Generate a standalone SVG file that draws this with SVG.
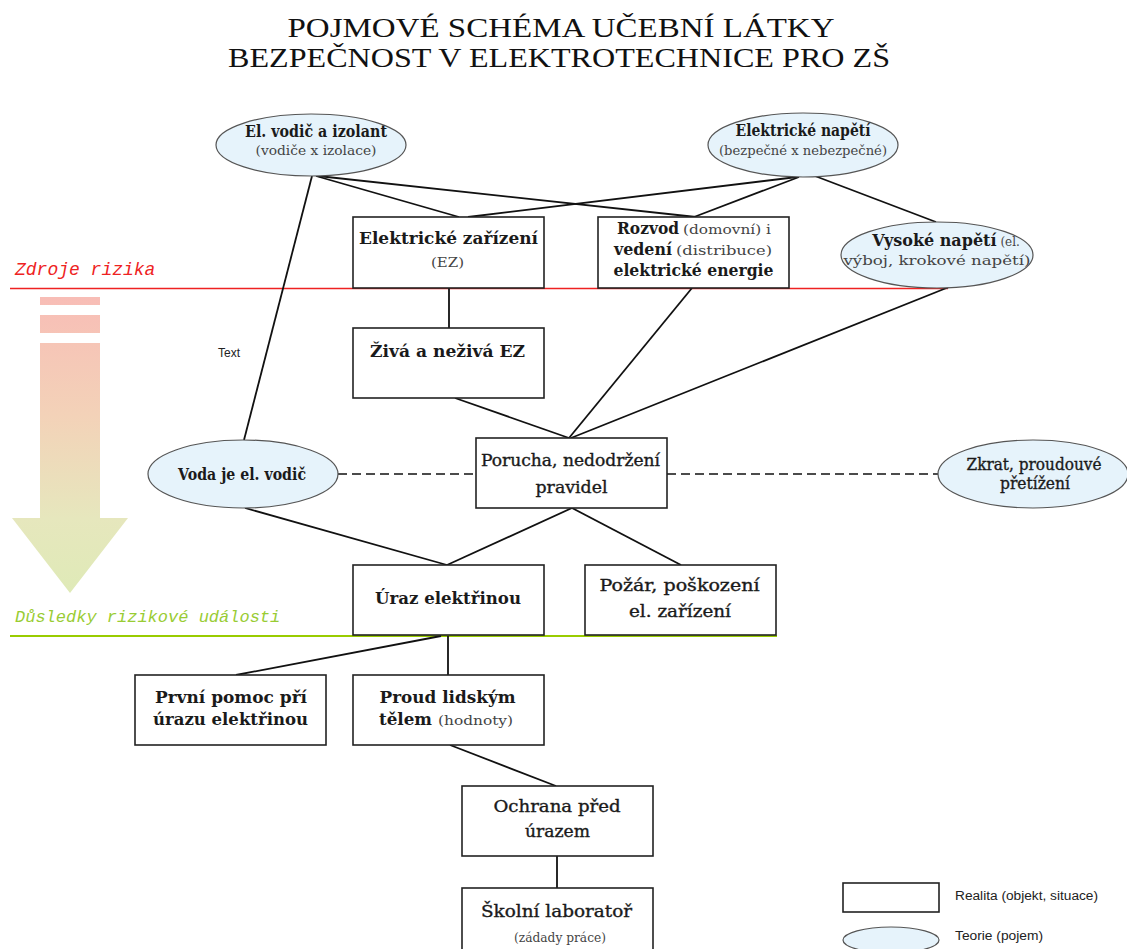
<svg xmlns="http://www.w3.org/2000/svg" width="1127" height="949" viewBox="0 0 1127 949">
<defs>
<linearGradient id="arrowGrad" gradientUnits="userSpaceOnUse" x1="0" y1="297" x2="0" y2="593">
<stop offset="0" stop-color="#f8bdb6"/>
<stop offset="0.4" stop-color="#f3d2b8"/>
<stop offset="0.75" stop-color="#e6e7bd"/>
<stop offset="1" stop-color="#dfeab7"/>
</linearGradient>
</defs>
<style>
.title{font-family:"Liberation Serif","Times New Roman",serif;font-size:27px;fill:#111}
.box{fill:#fff;stroke:#222;stroke-width:1.6}
.ell{fill:#e6f3fb;stroke:#555;stroke-width:1.2}
.b{font-family:"DejaVu Serif",serif;font-weight:bold;font-size:16px;fill:#1a1a1a}
.r{font-family:"DejaVu Serif",serif;font-size:16px;fill:#1a1a1a;stroke:#1a1a1a;stroke-width:0.35}
.s{font-family:"DejaVu Serif",serif;font-size:12px;fill:#444;font-weight:normal;stroke:none}
.t{text-anchor:middle}
.conn line{stroke:#111;stroke-width:1.8}
.conn .dash{stroke-dasharray:9,5;stroke-width:1.5}
.leg{font-family:"Liberation Sans",Arial,sans-serif;font-size:12px;fill:#222}
.zone{font-family:"Liberation Mono","Courier New",monospace;font-style:italic}
</style>

<g id="title">
<text class="title t" x="561" y="37" textLength="547" lengthAdjust="spacingAndGlyphs">POJMOVÉ SCHÉMA UČEBNÍ LÁTKY</text>
<text class="title t" x="559" y="67" textLength="662" lengthAdjust="spacingAndGlyphs">BEZPEČNOST V ELEKTROTECHNICE PRO ZŠ</text>
</g>

<g id="risk-arrow">
<rect x="40" y="297" width="60" height="8" fill="url(#arrowGrad)"/>
<rect x="40" y="315" width="60" height="18" fill="url(#arrowGrad)"/>
<polygon points="40,343 100,343 100,518 128,518 70,593 12,518 40,518" fill="url(#arrowGrad)"/>
</g>

<g id="zone-lines">
<line x1="10" y1="288.5" x2="948" y2="288.5" stroke="#ee2222" stroke-width="1.5"/>
<text class="zone" x="15" y="275" font-size="18" fill="#ee2222">Zdroje rizika</text>
<line x1="10" y1="636" x2="777" y2="636" stroke="#99cc00" stroke-width="2"/>
<text class="zone" x="15" y="622" font-size="17" fill="#99cc33">Důsledky rizikové události</text>
</g>

<g id="connectors" class="conn">
<line x1="312" y1="176" x2="244" y2="440"/>
<line x1="316" y1="176" x2="459" y2="217"/>
<line x1="318" y1="176" x2="696" y2="217"/>
<line x1="797" y1="177" x2="468" y2="217"/>
<line x1="799" y1="177" x2="694" y2="217"/>
<line x1="815" y1="176" x2="936" y2="222"/>
<line x1="449" y1="288" x2="449" y2="328"/>
<line x1="455" y1="398" x2="569" y2="438"/>
<line x1="692" y1="288" x2="569" y2="438"/>
<line x1="949" y1="287" x2="571" y2="438"/>
<line class="dash" x1="338" y1="474" x2="476" y2="474"/>
<line class="dash" x1="667" y1="474" x2="938" y2="474"/>
<line x1="245" y1="508" x2="447" y2="565"/>
<line x1="572" y1="508" x2="447" y2="565"/>
<line x1="572" y1="508" x2="681" y2="565"/>
<line x1="441" y1="636" x2="236" y2="675"/>
<line x1="448" y1="636" x2="448" y2="675"/>
<line x1="450" y1="745" x2="556" y2="786"/>
<line x1="557" y1="856" x2="557" y2="888"/>
<text class="leg" x="218" y="357">Text</text>
</g>

<g id="n-vodic-izolant">
<ellipse class="ell" cx="311" cy="145" rx="95" ry="31"/>
<text class="b t" x="316" y="137" font-size="15" textLength="142" lengthAdjust="spacingAndGlyphs">El. vodič a izolant</text>
<text class="s t" x="316" y="155" font-size="13" textLength="121" lengthAdjust="spacingAndGlyphs">(vodiče x izolace)</text>
</g>

<g id="n-napeti">
<ellipse class="ell" cx="803" cy="145" rx="95" ry="32"/>
<text class="b t" x="803" y="136" font-size="14" textLength="135" lengthAdjust="spacingAndGlyphs">Elektrické napětí</text>
<text class="s t" x="803" y="155" font-size="11" textLength="168" lengthAdjust="spacingAndGlyphs">(bezpečné x nebezpečné)</text>
</g>

<g id="n-vysoke">
<ellipse class="ell" cx="937" cy="255" rx="96" ry="33"/>
<text class="t" x="946" y="246"><tspan class="b" font-size="14">Vysoké napětí</tspan><tspan class="s" font-size="12"> (el.</tspan></text>
<text class="s t" x="937" y="265" font-size="13" textLength="187" lengthAdjust="spacingAndGlyphs">výboj, krokové napětí)</text>
</g>

<g id="n-ez">
<rect class="box" x="353" y="217" width="191" height="71"/>
<text class="b t" x="448.5" y="244" textLength="179" lengthAdjust="spacingAndGlyphs">Elektrické zařízení</text>
<text class="s t" x="447.5" y="267" font-size="15" textLength="33" lengthAdjust="spacingAndGlyphs">(EZ)</text>
</g>

<g id="n-rozvod">
<rect class="box" x="598" y="217" width="191" height="71"/>
<text class="b" x="617" y="234" font-size="15" textLength="62" lengthAdjust="spacingAndGlyphs">Rozvod</text>
<text class="s" x="683" y="234" font-size="13" textLength="88" lengthAdjust="spacingAndGlyphs">(domovní) i</text>
<text class="b" x="614" y="255" font-size="15" textLength="58" lengthAdjust="spacingAndGlyphs">vedení</text>
<text class="s" x="676" y="255" font-size="13" textLength="96" lengthAdjust="spacingAndGlyphs">(distribuce)</text>
<text class="b t" x="693.5" y="276" textLength="160" lengthAdjust="spacingAndGlyphs">elektrické energie</text>
</g>

<g id="n-ziva">
<rect class="box" x="353" y="328" width="191" height="70"/>
<text class="b t" x="447.5" y="357" textLength="155" lengthAdjust="spacingAndGlyphs">Živá a neživá EZ</text>
</g>

<g id="n-voda">
<ellipse class="ell" cx="243" cy="474" rx="95" ry="34"/>
<text class="b t" x="242" y="480" font-size="15" textLength="128" lengthAdjust="spacingAndGlyphs">Voda je el. vodič</text>
</g>

<g id="n-porucha">
<rect class="box" x="476" y="438" width="191" height="70"/>
<text class="r t" x="570.5" y="466" textLength="179" lengthAdjust="spacingAndGlyphs">Porucha, nedodržení</text>
<text class="r t" x="571.5" y="493" textLength="72" lengthAdjust="spacingAndGlyphs">pravidel</text>
</g>

<g id="n-zkrat">
<ellipse class="ell" cx="1033" cy="474" rx="95" ry="34"/>
<text class="r t" x="1034" y="470" font-size="15" textLength="135" lengthAdjust="spacingAndGlyphs">Zkrat, proudouvé</text>
<text class="r t" x="1035" y="489" font-size="15" textLength="70" lengthAdjust="spacingAndGlyphs">přetížení</text>
</g>

<g id="n-uraz">
<rect class="box" x="353" y="565" width="191" height="70"/>
<text class="b t" x="448" y="604" textLength="146" lengthAdjust="spacingAndGlyphs">Úraz elektřinou</text>
</g>

<g id="n-pozar">
<rect class="box" x="585" y="565" width="191" height="70"/>
<text class="r t" x="679.5" y="591" textLength="160" lengthAdjust="spacingAndGlyphs">Požár, poškození</text>
<text class="r t" x="680" y="617" textLength="102" lengthAdjust="spacingAndGlyphs">el. zařízení</text>
</g>

<g id="n-prvni-pomoc">
<rect class="box" x="135" y="675" width="191" height="70"/>
<text class="b t" x="231" y="703" textLength="152" lengthAdjust="spacingAndGlyphs">První pomoc pří</text>
<text class="b t" x="230.5" y="725" textLength="155" lengthAdjust="spacingAndGlyphs">úrazu elektřinou</text>
</g>

<g id="n-proud">
<rect class="box" x="353" y="675" width="191" height="70"/>
<text class="b t" x="447.5" y="703" textLength="136" lengthAdjust="spacingAndGlyphs">Proud lidským</text>
<text class="b" x="379" y="725" textLength="53" lengthAdjust="spacingAndGlyphs">tělem</text>
<text class="s" x="438" y="725" font-size="13" textLength="75" lengthAdjust="spacingAndGlyphs">(hodnoty)</text>
</g>

<g id="n-ochrana">
<rect class="box" x="462" y="786" width="191" height="70"/>
<text class="r t" x="557" y="812" textLength="127" lengthAdjust="spacingAndGlyphs">Ochrana před</text>
<text class="r t" x="557.5" y="837" textLength="65" lengthAdjust="spacingAndGlyphs">úrazem</text>
</g>

<g id="n-skolni">
<rect class="box" x="462" y="888" width="191" height="70"/>
<text class="r t" x="556.5" y="917" textLength="151" lengthAdjust="spacingAndGlyphs">Školní laboratoř</text>
<text class="s t" x="560" y="942" font-size="13" textLength="92" lengthAdjust="spacingAndGlyphs">(zádady práce)</text>
</g>

<g id="legend">
<rect class="box" x="843" y="883" width="96" height="29"/>
<text class="leg" x="955" y="900" font-size="13" textLength="143" lengthAdjust="spacingAndGlyphs">Realita (objekt, situace)</text>
<ellipse class="ell" cx="891" cy="940" rx="48" ry="13"/>
<text class="leg" x="955" y="940" font-size="13" textLength="88" lengthAdjust="spacingAndGlyphs">Teorie (pojem)</text>
</g>
</svg>
